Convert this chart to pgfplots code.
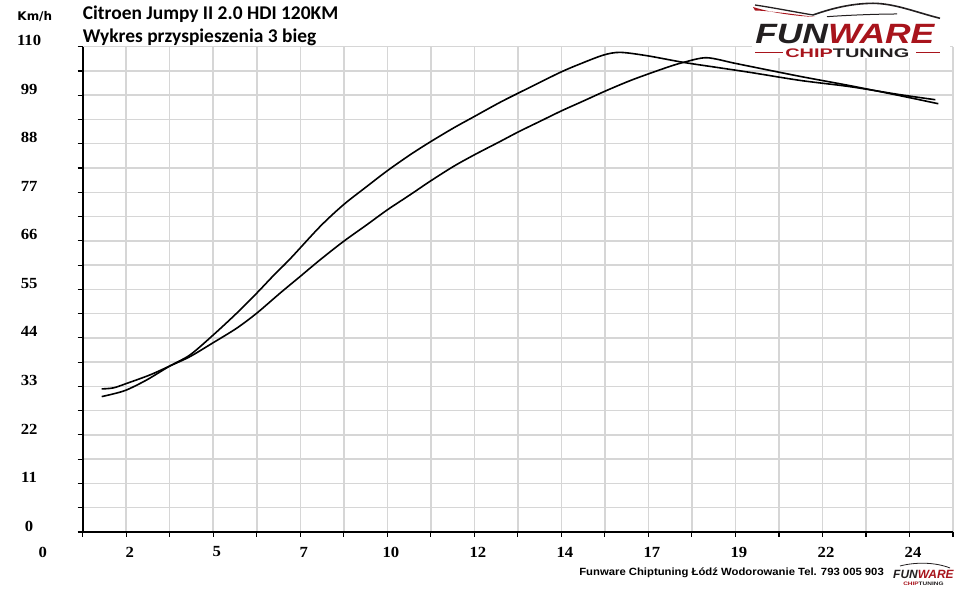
\documentclass[border=0pt]{standalone}
\usepackage{fontspec}
\setmainfont{Liberation Serif}
\newfontfamily\calibri{Carlito}
\newfontfamily\arialf{Liberation Sans}
\newfontfamily\dejavu{DejaVu Sans}
\usepackage{pgfplots}
\pgfplotsset{compat=1.18}
\definecolor{gridgray}{HTML}{D6D6D6}
\definecolor{logored}{HTML}{A8141C}
\definecolor{logodark}{HTML}{231F20}
\begin{document}
\begin{tikzpicture}[x=1bp,y=1bp]
\path[use as bounding box] (0,0) rectangle (960,595);
\fill[white] (0,0) rectangle (960,595);
\begin{axis}[
  at={(82.7bp,63bp)}, anchor=south west,
  scale only axis, width=870.3bp, height=485.3bp,
  xmin=0, xmax=24, ymin=0, ymax=110,
  axis x line*=bottom, axis y line*=left,
  axis line style={line width=2bp, black, -},
  xtick={0,2.4,4.8,7.2,9.6,12,14.4,16.8,19.2,21.6,24},
  xticklabels={0,2,5,7,10,12,14,17,19,22,24},
  minor xtick={1.2,3.6,6,8.4,10.8,13.2,15.6,18,20.4,22.8},
  ytick={0,11,22,33,44,55,66,77,88,99,110},
  yticklabels={0,11,22,33,44,55,66,77,88,99,110},
  minor ytick={5.5,16.5,27.5,38.5,49.5,60.5,71.5,82.5,93.5,104.5},
  grid=both,
  major grid style={gridgray, line width=1.5bp},
  minor grid style={gridgray, line width=1.5bp},
  tick align=outside, tick pos=left,
  major tick length=5bp, minor tick length=5bp,
  tick style={black, line width=1.1bp},
  xticklabel style={font=\bfseries\fontsize{15.5}{15.5}\selectfont, xscale=1.08, anchor=center, xshift=-37bp, yshift=-15bp},
  yticklabel style={font=\bfseries\fontsize{15.5}{15.5}\selectfont, xscale=1.08, anchor=center, xshift=-45bp, yshift=6bp},
]
\addplot[black, line width=1.6bp, smooth] coordinates {
(0.524,30.69) (0.844,31.30) (1.214,32.21) (1.766,34.47) (2.408,37.65)
(2.960,40.14) (3.603,44.68) (4.248,49.60) (4.800,54.14) (5.258,58.10)
(5.719,61.90) (6.546,69.24) (7.189,74.16) (7.834,78.31)
(8.403,81.90) (9.029,85.50) (9.581,88.40) (10.223,91.56) (10.803,94.19)
(11.512,97.40) (12.201,100.25) (13.167,104.17) (13.719,106.10) (14.361,108.10)
(14.822,108.71) (15.558,107.96) (16.568,106.44) (17.490,105.30) (18.408,104.17)
(19.788,102.35) (21.167,100.93) (22.547,99.11) (23.512,97.98)
};
\addplot[black, line width=1.6bp, smooth] coordinates {
(0.524,32.43) (0.844,32.66) (1.214,33.68) (1.857,35.61) (2.408,37.65)
(2.960,39.76) (3.603,42.93) (4.248,46.20) (4.800,49.60) (5.443,54.14)
(5.994,57.90) (6.546,61.69) (7.189,65.84) (7.834,69.63) (8.403,73.03)
(9.029,76.43) (9.581,79.50) (10.223,82.85) (10.803,85.50) (11.512,88.52)
(12.016,90.70) (12.615,93.10) (13.214,95.50) (13.810,97.70) (14.455,100.10)
(15.189,102.60) (16.110,105.30) (16.568,106.44) (17.200,107.50)
(17.948,106.30) (18.408,105.53) (19.788,103.26) (21.167,101.15) (22.547,98.88)
(23.595,97.07)
};
\end{axis}
% titles
\node[anchor=base west, inner sep=0, font=\calibri\bfseries\fontsize{19.5}{19.5}\selectfont] at (82.7,575.5) {Citroen Jumpy II 2.0 HDI 120KM};
\node[anchor=base west, inner sep=0, font=\calibri\bfseries\fontsize{19.5}{19.5}\selectfont] at (82.7,552.3) {Wykres przyspieszenia 3 bieg};
\node[anchor=base west, inner sep=0, font=\dejavu\bfseries\fontsize{12}{12}\selectfont] at (17.3,574.3) {Km/h};
% footer
\node[anchor=base east, inner sep=0, xscale=1.08, font=\arialf\bfseries\fontsize{10.5}{10.5}\selectfont] at (884,19.3) {Funware Chiptuning Łódź Wodorowanie Tel. 793 005 903};
% big logo
\fill[white] (752,537) rectangle (950,595);
\fill[logored] (753,588) .. controls (772,582) and (795,579) .. (815,578) .. controls (795,580.5) and (772,584) .. (755,584.5) -- cycle;
\draw[logodark, line width=1.3bp] (755,590) .. controls (775,587) and (795,583) .. (813,580);
\draw[logodark, line width=1.6bp] (813,580) .. controls (830,586) and (850,591.5) .. (873,591.7) .. controls (895,591.5) and (915,583) .. (940,576.7);
\draw[logodark, line width=1bp] (827,578.3) .. controls (850,580) and (880,581) .. (897,581);
\node[anchor=base west, inner sep=0, xscale=1.27, font=\arialf\bfseries\itshape\fontsize{28}{28}\selectfont] at (755,551.7) {\textcolor{logodark}{FUN}\textcolor{logored}{WARE}};
\node[anchor=base west, inner sep=0, xscale=1.6, font=\arialf\bfseries\fontsize{12.5}{12.5}\selectfont] at (785,537.7) {\textcolor{logored}{CHIP}\textcolor{logodark}{TUNING}};
\draw[logored, line width=1.2bp] (755,542.3) -- (783,542.3);
\draw[logored, line width=1.2bp] (916,542.3) -- (940,542.3);
% small logo
\draw[logodark, line width=0.8bp] (900,29) .. controls (915,33) and (935,33) .. (950,27);
\node[anchor=base west, inner sep=0, font=\arialf\bfseries\itshape\fontsize{12}{12}\selectfont] at (893,16) {\textcolor{logodark}{FUN}\textcolor{logored}{WARE}};
\node[anchor=base west, inner sep=0, xscale=1.3, font=\arialf\bfseries\fontsize{5}{5}\selectfont] at (903,9) {\textcolor{logored}{CHIP}\textcolor{logodark}{TUNING}};
\end{tikzpicture}
\end{document}
